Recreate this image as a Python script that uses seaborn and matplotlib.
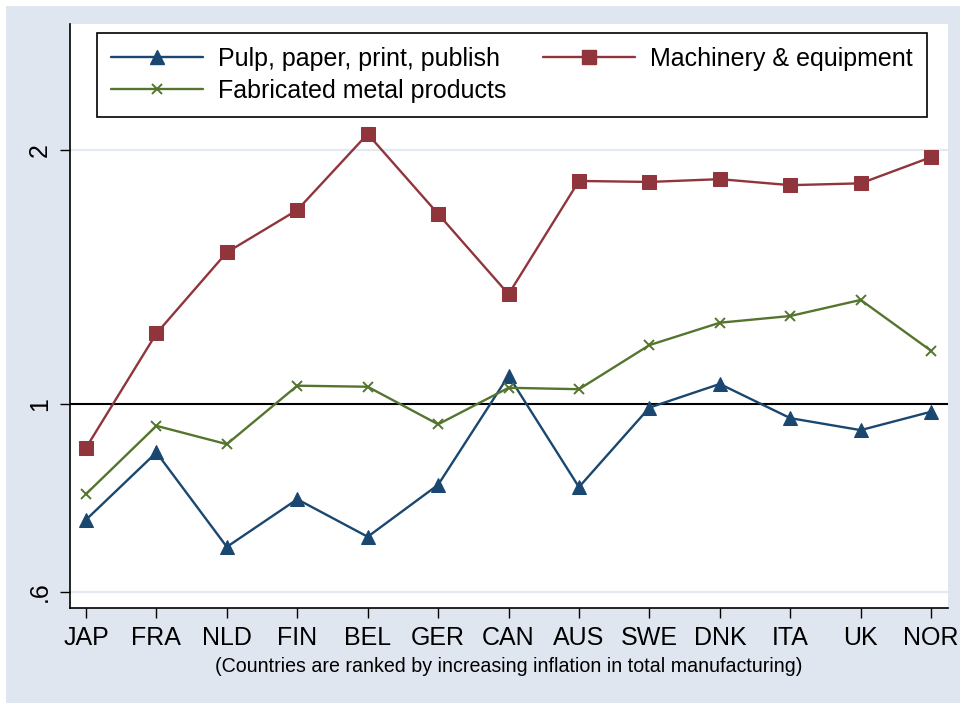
import matplotlib
matplotlib.use("Agg")

import matplotlib.pyplot as plt
import matplotlib.patches as mpatches
from matplotlib.ticker import NullLocator, FixedLocator
import seaborn as sns
import numpy as np

# data
countries = ["JAP", "FRA", "NLD", "FIN", "BEL", "GER", "CAN", "AUS", "SWE", "DNK", "ITA", "UK", "NOR"]
pulp = [0.730, 0.877, 0.678, 0.772, 0.697, 0.803, 1.081, 0.798, 0.991, 1.057, 0.963, 0.932, 0.980]
machinery = [0.888, 1.213, 1.513, 1.698, 2.089, 1.680, 1.350, 1.838, 1.833, 1.847, 1.817, 1.826, 1.961]
metal = [0.783, 0.943, 0.897, 1.052, 1.049, 0.947, 1.046, 1.042, 1.175, 1.249, 1.272, 1.329, 1.157]
ytick_vals = [0.6, 1, 2]
ytick_labels = [".6", "1", "2"]

NAVY = "#1a476f"
MAROON = "#90353b"
GREEN = "#55752f"
BG = "#e0e6f0"
GRID = "#e3e8f1"

sns.set_theme(style="white")
plt.rcParams.update({
    "font.family": ["Liberation Sans", "DejaVu Sans"],
    "text.color": "black",
    "axes.labelcolor": "black",
    "xtick.color": "black",
    "ytick.color": "black",
})

fig = plt.figure(figsize=(9.6, 7.03), dpi=100, facecolor="white")
fig.patches.append(mpatches.Rectangle((6 / 960, 0), 1, 697 / 703,
                                      transform=fig.transFigure,
                                      facecolor=BG, edgecolor="none", zorder=-10))
ax = fig.add_axes([70 / 960, 95 / 703, 878 / 960, 584 / 703])
ax.set_facecolor("white")

x = np.arange(len(countries))

ax.axhline(1, color="black", lw=1.5, zorder=1)

sns.lineplot(x=x, y=pulp, ax=ax, color=NAVY, lw=1.7, marker="^",
             markersize=10.5, markeredgecolor=NAVY, zorder=3)
sns.lineplot(x=x, y=machinery, ax=ax, color=MAROON, lw=1.7, marker="s",
             markersize=9.5, markeredgecolor=MAROON, zorder=3)
sns.lineplot(x=x, y=metal, ax=ax, color=GREEN, lw=1.7, marker="x",
             markersize=7, markeredgewidth=1.4, markeredgecolor=GREEN, zorder=3)

ax.set_yscale("log")
ax.set_ylim(0.574, 2.819)
ax.set_xlim(-0.227, 12.24)
ax.yaxis.set_major_locator(FixedLocator(ytick_vals))
ax.set_yticklabels(ytick_labels)
ax.yaxis.set_minor_locator(NullLocator())
ax.set_xticks(x)
ax.set_xticklabels(countries)

for v in [0.6, 2]:
    ax.axhline(v, color=GRID, lw=1.6, zorder=0.5)

ax.tick_params(axis="both", which="major", direction="out", length=7,
               width=1, color="black", labelsize=18, pad=6, left=True, bottom=True)
ax.tick_params(axis="y", labelrotation=90)
for lbl in ax.get_yticklabels():
    lbl.set_va("center")

for side in ["top", "right"]:
    ax.spines[side].set_visible(False)
for side in ["left", "bottom"]:
    ax.spines[side].set_color("black")
    ax.spines[side].set_linewidth(1.2)

ax.set_xlabel("(Countries are ranked by increasing inflation in total manufacturing)",
              fontsize=14.1, labelpad=5, color="black")

handles = [
    plt.Line2D([], [], color=NAVY, lw=1.7, marker="^", markersize=10.5),
    plt.Line2D([], [], color=GREEN, lw=1.7, marker="x", markersize=7, markeredgewidth=1.4),
    plt.Line2D([], [], color=MAROON, lw=1.7, marker="s", markersize=9.5),
]
labels = ["Pulp, paper, print, publish", "Fabricated metal products", "Machinery & equipment"]
leg = ax.legend(handles, labels, ncol=2, loc="upper left",
                bbox_to_anchor=(27 / 878, 1 - 9 / 584), borderaxespad=0,
                fontsize=18, handlelength=3.7, handletextpad=0.6, columnspacing=1.45,
                labelspacing=0.32, borderpad=0.55, fancybox=False,
                frameon=True, framealpha=1, edgecolor="black")
leg.get_frame().set_linewidth(1.2)

fig.savefig("out.png", dpi=100, facecolor=fig.get_facecolor())
